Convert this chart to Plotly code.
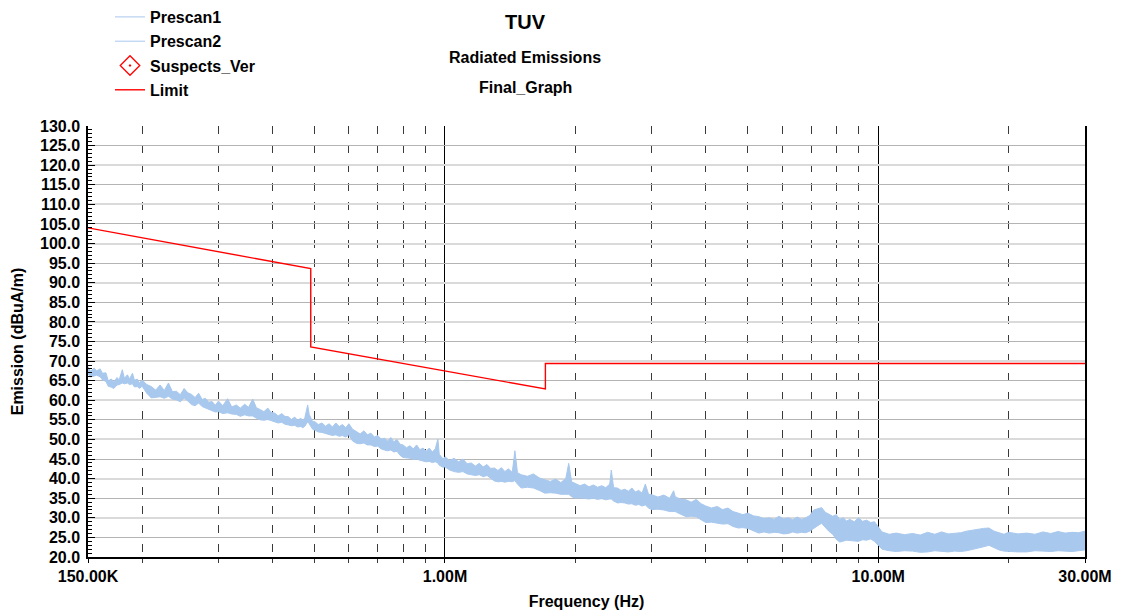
import plotly.graph_objects as go

# ---------------- data ----------------
# Prescan1 trace: frequency (kHz) with upper / lower edge of the noisy trace (dBuA/m)
prescan_freq_khz = [
    150, 152, 155, 157, 160, 162, 165, 167, 170, 172,
    175, 177, 180, 182, 185, 187, 190, 192, 195, 197,
    200, 205, 210, 215, 220, 225, 230, 235, 240, 245,
    250, 255, 260, 265, 270, 275, 280, 285, 290, 295,
    300, 307, 315, 322, 330, 337, 345, 352, 360, 367,
    375, 382, 390, 397, 405, 412, 420, 427, 435, 442,
    450, 457, 465, 470, 475, 482, 486, 490, 495, 500,
    510, 520, 530, 540, 550, 560, 570, 580, 590, 600,
    612, 625, 637, 650, 662, 675, 687, 700, 712, 725,
    737, 750, 762, 775, 787, 800, 815, 830, 845, 860,
    875, 890, 905, 920, 935, 950, 963, 970, 980, 990,
    1000, 1025, 1050, 1075, 1100, 1125, 1150, 1175, 1200, 1225,
    1250, 1275, 1300, 1325, 1350, 1375, 1400, 1430, 1450, 1470,
    1500, 1550, 1600, 1650, 1700, 1750, 1800, 1850, 1900, 1930,
    1960, 2000, 2050, 2100, 2150, 2200, 2250, 2300, 2350, 2400,
    2420, 2450, 2500, 2550, 2600, 2650, 2700, 2750, 2800, 2850,
    2900, 2950, 3000, 3100, 3200, 3300, 3370, 3400, 3500, 3600,
    3700, 3800, 3900, 4000, 4120, 4250, 4370, 4500, 4620, 4750,
    4870, 5000, 5150, 5300, 5450, 5600, 5750, 5900, 6050, 6200,
    6350, 6500, 6650, 6800, 6950, 7100, 7250, 7400, 7550, 7700,
    7850, 8000, 8150, 8300, 8450, 8600, 8800, 9000, 9200, 9400,
    9600, 9800, 10000, 10200, 10600, 11000, 11500, 12000, 12500, 13000,
    13500, 14000, 14500, 15000, 15500, 16000, 16500, 17000, 17500, 18000,
    18500, 19000, 19500, 20000, 21000, 22000, 23000, 24000, 25000, 26000,
    27000, 28000, 29000, 30000,
]
prescan_upper = [
    68.6, 67.4, 68.2, 67.5, 68.0, 66.9, 67.0, 65.0, 65.4, 64.6,
    65.8, 65.2, 67.8, 65.6, 66.5, 65.4, 66.9, 65.1, 65.4, 64.4,
    65.2, 64.0, 63.5, 62.6, 63.9, 62.5, 64.4, 62.2, 62.3, 61.4,
    63.0, 61.9, 61.5, 60.7, 61.8, 60.2, 60.5, 59.5, 59.7, 58.7,
    59.8, 58.6, 60.4, 58.3, 58.8, 58.0, 59.0, 58.2, 60.3, 58.1,
    57.6, 57.1, 58.0, 56.9, 56.7, 56.0, 56.6, 55.9, 55.8, 55.1,
    55.7, 54.9, 55.4, 54.8, 55.6, 58.8, 56.4, 55.5, 54.5, 54.6,
    53.8, 54.2, 53.4, 54.0, 53.2, 54.2, 53.3, 53.8, 53.0, 54.0,
    52.6, 52.0, 51.4, 52.2, 51.2, 51.6, 50.6, 51.0, 50.1, 50.3,
    49.6, 50.5, 49.4, 50.0, 48.8, 48.6, 47.9, 48.4, 47.6, 48.6,
    47.4, 47.8, 47.0, 47.8, 46.8, 47.6, 50.1, 46.2, 45.6, 45.0,
    45.6, 44.6, 45.2, 44.3, 45.0, 43.8, 44.0, 43.2, 43.9, 43.0,
    43.6, 42.6, 42.7, 42.1, 42.8, 41.8, 42.5, 41.6, 47.1, 41.5,
    41.0, 40.6, 41.2, 40.2, 39.7, 39.3, 39.9, 39.0, 40.0, 43.9,
    39.2, 38.8, 38.2, 38.6, 37.9, 38.4, 37.8, 38.2, 37.7, 38.6,
    42.2, 37.7, 37.6, 37.0, 37.3, 36.8, 37.6, 36.6, 37.0, 36.3,
    38.6, 36.0, 35.9, 35.3, 35.8, 35.0, 36.9, 35.4, 34.7, 34.6,
    34.0, 34.7, 33.6, 33.0, 32.5, 32.9, 32.1, 32.5, 31.6, 31.2,
    30.8, 31.2, 30.5, 30.3, 29.8, 30.0, 29.6, 30.4, 29.7, 30.0,
    29.5, 30.2, 29.6, 30.0, 30.6, 32.0, 32.4, 32.6, 31.4, 30.8,
    30.4, 30.8, 29.6, 30.0, 29.2, 29.6, 29.0, 30.0, 29.1, 29.4,
    28.8, 29.0, 27.8, 26.4, 25.8, 26.1, 25.7, 26.0, 25.6, 26.3,
    25.8, 26.4, 25.9, 26.0, 26.2, 26.6, 26.9, 27.0, 27.3, 27.4,
    26.6, 26.2, 25.8, 26.3, 25.9, 26.1, 25.8, 26.4, 26.0, 26.5,
    26.1, 26.3, 26.2, 26.6,
]
prescan_lower = [
    66.8, 65.9, 66.2, 66.4, 66.0, 65.2, 64.8, 63.6, 63.3, 63.0,
    63.9, 64.0, 64.4, 64.2, 64.4, 64.0, 64.2, 63.4, 63.5, 63.0,
    63.6, 61.8, 60.6, 60.8, 60.9, 60.5, 61.0, 60.3, 60.1, 59.6,
    60.6, 59.8, 58.9, 58.6, 59.3, 58.4, 58.0, 57.6, 57.2, 57.0,
    57.1, 56.6, 56.8, 56.5, 56.4, 55.9, 56.3, 56.0, 56.0, 55.4,
    55.0, 54.9, 55.1, 54.8, 54.6, 54.2, 54.4, 53.9, 53.7, 53.5,
    53.6, 53.2, 53.3, 53.0, 53.4, 54.5, 54.0, 53.3, 52.6, 52.4,
    51.9, 51.8, 51.5, 51.3, 51.0, 51.2, 50.8, 51.0, 50.6, 51.2,
    49.6, 49.0, 48.9, 49.1, 48.6, 48.6, 48.2, 48.3, 47.6, 47.3,
    47.1, 47.3, 46.8, 47.0, 46.0, 45.4, 45.3, 45.2, 44.9, 45.0,
    44.7, 44.5, 44.3, 44.4, 44.1, 44.3, 44.0, 43.4, 43.1, 42.9,
    43.0, 42.2, 41.8, 41.6, 41.8, 41.2, 41.0, 40.8, 41.0, 40.5,
    40.8, 40.0, 39.4, 39.2, 39.3, 39.1, 39.3, 39.2, 39.5, 38.6,
    37.6, 37.8, 37.6, 37.0, 36.3, 36.4, 36.3, 36.0, 36.1, 36.0,
    35.4, 35.0, 35.1, 35.0, 34.8, 35.0, 34.7, 34.9, 34.6, 34.8,
    34.8, 34.3, 33.8, 33.9, 33.8, 33.5, 33.6, 33.2, 33.4, 33.0,
    33.3, 32.5, 32.1, 32.2, 32.0, 31.6, 31.7, 31.6, 30.9, 30.3,
    30.4, 30.3, 29.5, 28.8, 28.9, 28.6, 28.4, 28.5, 27.8, 27.4,
    27.5, 27.3, 26.7, 26.1, 26.4, 26.1, 26.3, 26.2, 25.9, 26.0,
    26.4, 26.1, 26.3, 26.2, 26.6, 27.2, 28.0, 28.6, 27.4, 26.5,
    25.8, 24.5, 23.8, 24.0, 24.3, 24.2, 24.1, 24.0, 24.4, 24.3,
    24.6, 24.0, 23.0, 22.0, 21.6, 21.4, 21.6, 21.5, 21.2, 21.3,
    21.6, 21.5, 21.3, 21.5, 21.4, 21.6, 21.9, 22.2, 22.6, 23.0,
    22.4, 21.8, 21.5, 21.4, 21.3, 21.3, 21.6, 21.5, 21.4, 21.6,
    21.5, 21.4, 21.6, 21.8,
]
assert len(prescan_freq_khz) == len(prescan_upper) == len(prescan_lower)

limit_freq_khz = [150, 490, 490, 1705, 1705, 30000]
limit_level = [104.0, 93.6, 73.6, 62.9, 69.4, 69.4]

x_tick_freq = [150e3, 1e6, 10e6, 30e6]
x_tick_text = ["150.00K", "1.00M", "10.00M", "30.00M"]
x_minor_freq = [2e5, 3e5, 4e5, 5e5, 6e5, 7e5, 8e5, 9e5,
                2e6, 3e6, 4e6, 5e6, 6e6, 7e6, 8e6, 9e6, 2e7]
y_tick_vals = list(range(20, 131, 5))
y_tick_text = [f"{v:.1f}" for v in y_tick_vals]
y_grid10_vals = list(range(20, 131, 10))

title_lines = ["TUV", "Radiated Emissions", "Final_Graph"]

# ---------------- figure ----------------
FONT = "Liberation Sans, Arial, sans-serif"
BLUE = "#A8C8EE"
RED = "#FF0000"

f_hz = [f * 1e3 for f in prescan_freq_khz]
lim_hz = [f * 1e3 for f in limit_freq_khz]

fig = go.Figure()

# Prescan1 band (lower edge + filled upper edge)
fig.add_trace(go.Scatter(x=f_hz, y=prescan_lower, mode="lines",
                         line=dict(color=BLUE, width=1), showlegend=False,
                         hoverinfo="skip", legendgroup="p1"))
fig.add_trace(go.Scatter(x=f_hz, y=prescan_upper, mode="lines", fill="tonexty",
                         fillcolor=BLUE, line=dict(color=BLUE, width=1),
                         showlegend=False, legendgroup="p1"))

# Legend entries
fig.add_trace(go.Scatter(x=[None], y=[None], mode="lines", name="Prescan1",
                         line=dict(color=BLUE, width=1), legendgroup="p1"))
fig.add_trace(go.Scatter(x=[None], y=[None], mode="lines", name="Prescan2",
                         line=dict(color=BLUE, width=1), legendgroup="p2", yaxis="y2"))
fig.add_trace(go.Scatter(x=[None], y=[None], mode="markers", name="Suspects_Ver",
                         marker=dict(symbol="diamond-open-dot", color=RED, size=15,
                                     line=dict(color=RED, width=1.3)),
                         legendgroup="sv"))
fig.add_trace(go.Scatter(x=lim_hz, y=limit_level, mode="lines", name="Limit",
                         line=dict(color=RED, width=1.4), legendgroup="lim"))

# page body has an 8px margin: compensate so the plot lands where the reference has it
OFF = 8
W, H = 1123, 614
PL, PR, PT, PB = 88, 1085, 126, 557          # plot area in screen pixels
L, R, T, B = PL - OFF, W - (PR - OFF), PT - OFF, H - (PB - OFF)
pw = PR - PL
ph = PB - PT

def px_to_paper_x(px):
    return (px - PL) / pw

def py_to_paper_y(py):
    return (PB - py) / ph

annotations = []
for text, ypx, size in zip(title_lines, [22, 58, 87], [20, 16, 16]):
    annotations.append(dict(text=f"<b>{text}</b>", x=px_to_paper_x(525), y=py_to_paper_y(ypx),
                            xref="paper", yref="paper", xanchor="center", yanchor="middle",
                            showarrow=False, font=dict(family=FONT, size=size, color="black")))

fig.update_layout(
    width=W, height=H,
    margin=dict(l=L, r=R, t=T, b=B, pad=0, autoexpand=False),
    paper_bgcolor="white", plot_bgcolor="white",
    font=dict(family=FONT, size=16, color="black"),
    annotations=annotations,
    legend=dict(x=px_to_paper_x(110), y=py_to_paper_y(0), xanchor="left", yanchor="top",
                font=dict(family=FONT, size=16, color="black", weight="bold"),
                tracegroupgap=0.5, bgcolor="rgba(0,0,0,0)", itemwidth=30,
                traceorder="grouped"),
    xaxis=dict(type="log", range=[5.176091259, 7.477121255],
               tickmode="array", tickvals=x_tick_freq, ticktext=x_tick_text,
               tickfont=dict(family=FONT, size=16, weight="bold"),
               showgrid=True, gridcolor="black", gridwidth=1,
               ticks="outside", ticklen=4, tickcolor="black",
               showline=True, linecolor="black", linewidth=1.5, mirror=False,
               zeroline=False,
               minor=dict(tickmode="array", tickvals=x_minor_freq, showgrid=True,
                          gridcolor="#3a3a3a", gridwidth=1, griddash="8px,11px",
                          ticks="outside", ticklen=4, tickcolor="#3a3a3a"),
               title=dict(text="<b>Frequency (Hz)</b>", standoff=12,
                          font=dict(family=FONT, size=16))),
    yaxis=dict(range=[20, 130], tickmode="array", tickvals=y_tick_vals, ticktext=y_tick_text,
               tickfont=dict(family=FONT, size=16, weight="bold"),
               showgrid=True, gridcolor="#B4B4B4", gridwidth=1,
               ticks="inside", ticklen=7, tickcolor="black", ticklabelstandoff=3,
               showline=True, linecolor="black", linewidth=1.5, mirror=True,
               zeroline=False,
               minor=dict(dtick=1, ticks="inside", ticklen=4, tickcolor="black", showgrid=False),
               title=dict(text="<b>Emission (dBuA/m)</b>", standoff=12,
                          font=dict(family=FONT, size=16))),
    yaxis2=dict(range=[20, 130], overlaying="y", side="left", tickmode="array",
                tickvals=y_grid10_vals, showticklabels=False, ticks="",
                showgrid=True, gridcolor="#DADADA", gridwidth=2,
                showline=False, zeroline=False),
)

fig.write_html("out.html")
